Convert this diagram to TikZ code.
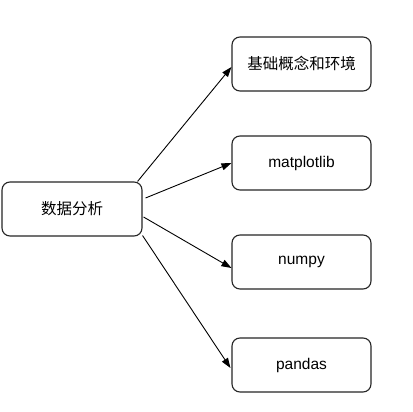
\documentclass[tikz,border=0pt]{standalone}
\usepackage{fontspec}
\setmainfont{Liberation Sans}
\newfontfamily\cjk{Noto Sans CJK SC}
\usetikzlibrary{arrows.meta}
\begin{document}
\begin{tikzpicture}[x=1pt,y=1pt,
  box/.style={draw=black!85,line width=1.1pt,rounded corners=8pt,fill=white,
    minimum width=139pt,minimum height=54pt,inner sep=0pt,
    font=\fontsize{15.5}{18}\selectfont},
  conn/.style={draw=black,line width=0.9pt,-{Triangle[length=10pt,width=7pt]}}]
\useasboundingbox[fill=white] (0,0) rectangle (412,412);
\node[box,minimum width=140pt] (src) at (72,203) {\cjk 数据分析};
\node[box] (b1) at (301.5,348) {\cjk 基础概念和环境};
\node[box] (b2) at (301.5,249) {matplotlib};
\node[box] (b3) at (301.5,150) {numpy};
\node[box] (b4) at (301.5,47) {pandas};
\draw[conn] ([xshift=-5pt]src.north east) -- ([yshift=-3pt]b1.west);
\draw[conn] ([shift={(3pt,11pt)}]src.east) -- (b2.west);
\draw[conn] ([shift={(1pt,-8pt)}]src.east) -- ([yshift=-6pt]b3.west);
\draw[conn] ([shift={(0pt,1pt)}]src.south east) -- ([shift={(-1pt,-3pt)}]b4.west);
\end{tikzpicture}
\end{document}
